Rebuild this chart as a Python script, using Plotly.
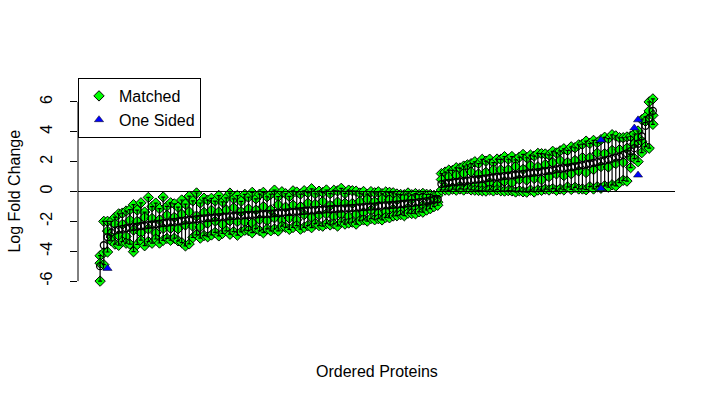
"""Ordered log fold change plot: matched replicates and one sided proteins."""

import numpy as np
import plotly.graph_objects as go

# Mean log fold change per protein, in rank order
mean_lfc = [
    -5.00, -3.60, -3.05, -2.75, -2.62, -2.55, -2.50, -2.46, -2.42, -2.38,
    -2.35, -2.31, -2.28, -2.25, -2.21, -2.18, -2.15, -2.12, -2.09, -2.06,
    -2.03, -2.00, -1.97, -1.94, -1.91, -1.88, -1.85, -1.82, -1.80, -1.78,
    -1.76, -1.74, -1.72, -1.70, -1.68, -1.66, -1.64, -1.62, -1.61, -1.59,
    -1.57, -1.56, -1.54, -1.53, -1.51, -1.50, -1.48, -1.46, -1.44, -1.42,
    -1.40, -1.38, -1.36, -1.34, -1.32, -1.30, -1.28, -1.27, -1.25, -1.23,
    -1.22, -1.20, -1.19, -1.17, -1.16, -1.14, -1.13, -1.11, -1.10, -1.08,
    -1.06, -1.05, -1.03, -1.01, -0.99, -0.97, -0.95, -0.93, -0.91, -0.89,
    -0.87, -0.85, -0.82, -0.80, -0.77, -0.74, -0.71, -0.68, -0.64, -0.60,
    -0.56, -0.52, 0.50, 0.55, 0.58, 0.61, 0.64, 0.67, 0.70, 0.73,
    0.76, 0.79, 0.82, 0.85, 0.88, 0.91, 0.94, 0.97, 1.00, 1.03,
    1.06, 1.09, 1.12, 1.15, 1.18, 1.21, 1.24, 1.27, 1.30, 1.33,
    1.36, 1.40, 1.44, 1.48, 1.52, 1.56, 1.60, 1.64, 1.68, 1.72,
    1.77, 1.82, 1.87, 1.92, 1.97, 2.02, 2.08, 2.14, 2.20, 2.27,
    2.35, 2.45, 2.55, 2.70, 2.90, 3.20, 3.70, 4.40, 4.90, 5.40,
]

# Highest replicate above the mean
upper_dev = [
    0.70, 1.60, 1.05, 0.75, 0.90, 1.05, 1.05, 1.15, 1.20, 1.50,
    1.10, 1.55, 0.90, 1.85, 1.20, 1.40, 1.00, 1.75, 1.10, 1.30,
    1.20, 0.95, 1.40, 1.10, 1.60, 1.25, 1.75, 1.05, 1.35, 1.20,
    1.30, 1.10, 1.45, 1.00, 1.25, 1.55, 1.15, 1.35, 0.95, 1.40,
    1.20, 1.50, 1.05, 1.35, 1.45, 1.15, 1.30, 1.55, 1.10, 1.40,
    1.25, 1.05, 1.40, 1.30, 1.15, 1.35, 1.20, 1.45, 1.10, 1.25,
    1.15, 1.30, 1.05, 1.25, 1.20, 1.35, 1.00, 1.20, 1.15, 1.10,
    0.95, 1.05, 0.85, 1.00, 0.90, 0.95, 0.80, 0.90, 0.85, 0.80,
    0.70, 0.65, 0.60, 0.70, 0.55, 0.60, 0.50, 0.55, 0.45, 0.40,
    0.30, 0.25, 0.70, 0.75, 0.85, 0.80, 0.95, 0.90, 1.00, 1.05,
    1.10, 1.20, 1.05, 1.30, 1.15, 1.25, 1.00, 1.20, 1.15, 1.30,
    1.10, 1.25, 1.00, 1.15, 1.30, 1.05, 1.20, 1.10, 1.25, 1.20,
    1.15, 1.05, 1.25, 1.10, 1.20, 1.30, 1.15, 1.35, 1.25, 1.40,
    1.40, 1.55, 1.35, 1.50, 1.30, 1.45, 1.55, 1.40, 1.60, 1.45,
    1.25, 1.15, 1.10, 1.00, 0.95, 0.85, 1.10, 0.60, 1.10, 0.80,
]

# Lowest replicate below the mean
lower_dev = [
    1.00, 1.30, 1.00, 0.55, 0.90, 1.05, 0.85, 1.00, 1.10, 1.65,
    1.20, 0.95, 1.35, 1.10, 1.25, 1.00, 1.30, 1.15, 1.05, 1.20,
    1.10, 1.30, 1.45, 1.70, 1.60, 1.20, 1.05, 1.30, 1.15, 1.25,
    1.15, 1.00, 1.25, 1.10, 0.95, 1.20, 1.05, 1.30, 1.10, 1.00,
    1.05, 1.20, 0.95, 1.10, 1.25, 1.00, 1.15, 1.05, 1.20, 0.90,
    1.00, 1.15, 1.05, 0.95, 1.20, 1.10, 1.00, 1.15, 0.90, 1.05,
    1.10, 0.95, 1.05, 1.00, 1.15, 0.90, 1.05, 1.00, 0.95, 1.10,
    0.90, 0.85, 0.95, 0.80, 0.90, 0.85, 0.95, 0.80, 0.85, 0.75,
    0.75, 0.70, 0.80, 0.65, 0.70, 0.75, 0.65, 0.70, 0.60, 0.55,
    0.45, 0.40, 0.40, 0.45, 0.50, 0.45, 0.55, 0.50, 0.60, 0.55,
    0.65, 0.70, 0.75, 0.80, 0.85, 0.80, 0.90, 0.85, 0.95, 1.00,
    1.00, 1.05, 1.15, 1.10, 1.20, 1.25, 1.15, 1.30, 1.20, 1.25,
    1.20, 1.30, 1.25, 1.40, 1.35, 1.45, 1.30, 1.50, 1.40, 1.55,
    1.60, 1.70, 1.55, 1.75, 1.65, 1.80, 1.70, 1.85, 1.75, 1.90,
    1.75, 1.70, 1.85, 1.10, 0.70, 1.20, 1.10, 1.40, 2.00, 0.90,
]

# Middle replicate relative to the mean
mid_dev = [
    0.20, -0.50, 0.40, -0.30, 0.45, -0.40, 0.30, -0.55, 0.50, -0.20,
    0.35, -0.45, 0.55, -0.25, 0.40, -0.60, 0.25, -0.35, 0.50, -0.40,
    0.30, -0.50, 0.45, -0.30, 0.55, -0.45, 0.20, -0.55, 0.40, -0.35,
    0.50, -0.25, 0.35, -0.50, 0.45, -0.30, 0.55, -0.40, 0.25, -0.45,
    0.40, -0.55, 0.30, -0.35, 0.50, -0.45, 0.25, -0.30, 0.55, -0.50,
    0.35, -0.40, 0.45, -0.55, 0.30, -0.25, 0.50, -0.45, 0.40, -0.35,
    0.55, -0.30, 0.25, -0.50, 0.45, -0.40, 0.35, -0.55, 0.30, -0.45,
    0.40, -0.35, 0.50, -0.25, 0.30, -0.50, 0.45, -0.40, 0.35, -0.30,
    0.30, -0.45, 0.40, -0.30, 0.25, -0.40, 0.35, -0.25, 0.30, -0.35,
    0.15, -0.20, 0.30, -0.25, 0.40, -0.35, 0.45, -0.30, 0.50, -0.40,
    0.55, -0.45, 0.35, -0.50, 0.40, -0.30, 0.50, -0.55, 0.45, -0.35,
    0.40, -0.50, 0.55, -0.35, 0.30, -0.45, 0.50, -0.40, 0.35, -0.55,
    0.45, -0.40, 0.50, -0.30, 0.55, -0.50, 0.35, -0.45, 0.40, -0.35,
    0.50, -0.55, 0.40, -0.45, 0.60, -0.35, 0.45, -0.50, 0.55, -0.40,
    0.45, -0.50, 0.35, -0.40, 0.30, 0.40, -0.35, 0.30, 0.50, -0.30,
]

# One sided values (rank, log fold change)
one_sided_rank = [3, 136, 136, 145, 146, 146]
one_sided_lfc = [-5.15, 3.45, 0.20, 4.25, 4.80, 1.10]

y_ticks = [-6, -4, -2, 0, 2, 4, 6]

FONT = "Arial, 'Liberation Sans', sans-serif"

rank = np.arange(1, len(mean_lfc) + 1)
mean = np.array(mean_lfc)
hi = mean + np.array(upper_dev)
lo = mean - np.array(lower_dev)
mid = mean + np.array(mid_dev)

# R-style 4% padding on the x range
pad = 0.04 * (rank[-1] - rank[0])
x_range = [rank[0] - pad, rank[-1] + pad]

fig = go.Figure()

# Replicate values
fig.add_trace(
    go.Scatter(
        x=np.concatenate([rank, rank, rank]),
        y=np.concatenate([hi, mid, lo]),
        mode="markers",
        name="Matched",
        marker=dict(
            symbol="diamond",
            size=8,
            color="#00ff00",
            line=dict(color="black", width=1),
        ),
    )
)

# Means with replicate range bars
fig.add_trace(
    go.Scatter(
        x=rank,
        y=mean,
        mode="markers",
        showlegend=False,
        marker=dict(
            symbol="circle-open",
            size=7,
            color="black",
            line=dict(color="black", width=1.3),
        ),
        error_y=dict(
            type="data",
            symmetric=False,
            array=hi - mean,
            arrayminus=mean - lo,
            color="black",
            thickness=1.2,
            width=2,
        ),
    )
)

fig.add_trace(
    go.Scatter(
        x=one_sided_rank,
        y=one_sided_lfc,
        mode="markers",
        name="One Sided",
        marker=dict(
            symbol="triangle-up",
            size=8,
            color="#0000ff",
            line=dict(color="black", width=0.5),
        ),
    )
)

# Zero line and y axis line (drawn between outer ticks, as in R)
fig.add_shape(
    type="line", xref="paper", yref="y",
    x0=0, x1=1, y0=0, y1=0,
    line=dict(color="black", width=1),
)
fig.add_shape(
    type="line", xref="paper", yref="y",
    x0=0, x1=0, y0=y_ticks[0], y1=y_ticks[-1],
    line=dict(color="black", width=1),
)

fig.add_annotation(
    text="Ordered Proteins", xref="paper", yref="paper",
    x=0.5, y=-0.295, showarrow=False,
    xanchor="center", yanchor="middle",
    font=dict(family=FONT, size=16, color="black"),
)
fig.add_annotation(
    text="Log Fold Change", xref="paper", yref="paper",
    x=-0.107, y=0.5, showarrow=False, textangle=-90,
    xanchor="center", yanchor="middle",
    font=dict(family=FONT, size=16, color="black"),
)

fig.update_layout(
    width=715,
    height=403,
    margin=dict(l=78, r=40, t=78, b=98),
    paper_bgcolor="white",
    plot_bgcolor="white",
    font=dict(family=FONT, size=16, color="black"),
    xaxis=dict(range=x_range, visible=False),
    yaxis=dict(
        range=[-7.6, 7.6],
        tickvals=y_ticks,
        ticktext=[str(v) for v in y_ticks],
        ticks="outside",
        ticklen=7,
        tickwidth=1,
        tickcolor="black",
        tickangle=-90,
        ticklabelstandoff=12,
        showgrid=False,
        zeroline=False,
        showline=False,
        automargin=False,
    ),
    legend=dict(
        x=0, y=1, xanchor="left", yanchor="top",
        bordercolor="black", borderwidth=1, bgcolor="white",
        font=dict(family=FONT, size=16, color="black"),
        tracegroupgap=0, itemwidth=30,
    ),
    showlegend=True,
    hovermode="closest",
)

# drop the browser's default body margin so the figure sits at the page origin
fig.write_html(
    "out.html",
    config={"displayModeBar": False},
    post_script="document.body.style.margin = '0';",
)
